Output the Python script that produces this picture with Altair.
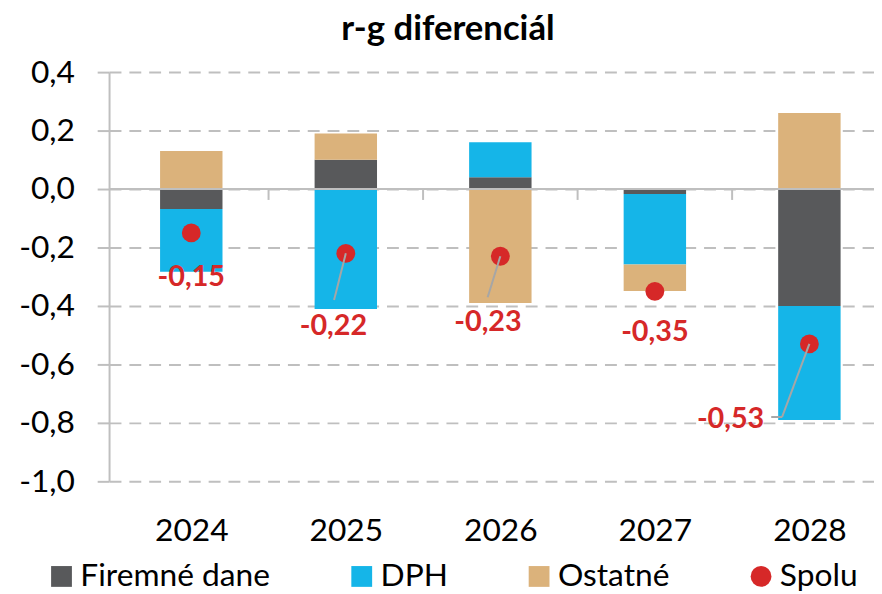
import altair as alt
import pandas as pd

# ---------------- data ----------------
years = [2024, 2025, 2026, 2027, 2028]
series = ["Firemné dane", "DPH", "Ostatné"]
firemne = [-0.068, 0.10, 0.04, -0.017, -0.40]
dph = [-0.215, -0.41, 0.12, -0.241, -0.39]
ostatne = [0.13, 0.09, -0.39, -0.091, 0.26]
spolu = [-0.15, -0.22, -0.23, -0.35, -0.53]
total_name = "Spolu"

# placement of the dragged data labels (offset in categories, value on y)
label_dx = [0.0, -0.08, -0.08, 0.0, -0.51]
label_y = [-0.302, -0.468, -0.454, -0.49, -0.786]
# leader line bends (offset in categories, value on y) per year
leaders = {
    2025: [(-0.076, -0.38)],
    2026: [(-0.082, -0.37)],
    2028: [(-0.177, -0.78), (-0.247, -0.78)],
}

colors = ["#58595B", "#15B5E8", "#DBB27B", "#D62828"]
GRAY = "#BFBFBF"
FONT = "Lato"

# ---------------- tables ----------------
rows = []
for i, y in enumerate(years):
    for k, (name, vals) in enumerate(zip(series, [firemne, dph, ostatne])):
        rows.append({"year": y, "series": name, "value": vals[i], "order": k})
bar_df = pd.DataFrame(rows)

tot_df = pd.DataFrame({
    "year": years,
    "value": spolu,
    "series": [total_name] * len(years),
    "lx": [y + d for y, d in zip(years, label_dx)],
    "ly": label_y,
    "lbl": [f"{v:.2f}".replace(".", ",") for v in spolu],
})

segs = []
for i, y in enumerate(years):
    if y in leaders:
        px, py = y, spolu[i]
        for dx, ly in leaders[y]:
            segs.append({"x1": px, "y1": py, "x2": y + dx, "y2": ly})
            px, py = y + dx, ly
seg_df = pd.DataFrame(segs)

bounds_df = pd.DataFrame({"b": [y + 0.5 for y in years[:-1]]})

# ---------------- layout ----------------
W, H = 772, 413
CAT = 158
x_scale = alt.Scale(domain=[years[0] - 0.5, years[0] - 0.5 + W / CAT], nice=False, zero=False)
y_scale = alt.Scale(domain=[-1.0, 0.4], nice=False, zero=False)

dom = series + [total_name]
color_scale = alt.Scale(domain=dom, range=colors)
shape_scale = alt.Scale(domain=dom, range=["square", "square", "square", "circle"])

y_ticks = [-1.0, -0.8, -0.6, -0.4, -0.2, 0.0, 0.2, 0.4]

x_axis = alt.Axis(values=years, format="d", title=None, grid=False, domain=False,
                  ticks=False, labelFontSize=32, labelPadding=35, labelColor="black",
                  labelFont=FONT)
y_axis = alt.Axis(values=y_ticks, title=None,
                  labelExpr="replace(replace(format(datum.value, '.1f'), '.', ','), '\u2212', '-')",
                  grid=True, gridDash=[12, 8], gridColor=GRAY, gridWidth=2,
                  domainColor=GRAY, domainWidth=2, tickColor=GRAY, tickWidth=2,
                  tickSize=12, labelFontSize=32, labelPadding=23, labelColor="black",
                  labelFont=FONT)
leg = alt.Legend(title=None)

bars = alt.Chart(bar_df).mark_bar(size=63).encode(
    x=alt.X("year:Q", scale=x_scale, axis=x_axis),
    y=alt.Y("value:Q", stack="zero", scale=y_scale, axis=y_axis),
    color=alt.Color("series:N", scale=color_scale, legend=leg),
    order=alt.Order("order:Q", sort="ascending"),
)

zero_rule = alt.Chart(pd.DataFrame({"z": [0.0]})).mark_rule(color=GRAY, strokeWidth=2).encode(
    y=alt.Y("z:Q", scale=y_scale, axis=y_axis)
)

cat_ticks = alt.Chart(bounds_df).mark_rule(color=GRAY, strokeWidth=2, y2Offset=11).encode(
    x=alt.X("b:Q", scale=x_scale, axis=x_axis),
    y=alt.datum(0.0, scale=y_scale, axis=y_axis),
    y2=alt.datum(0.0),
)

dots = alt.Chart(tot_df).mark_point(filled=True, size=361, opacity=1, strokeWidth=0).encode(
    x=alt.X("year:Q", scale=x_scale, axis=x_axis),
    y=alt.Y("value:Q", scale=y_scale, axis=y_axis),
    color=alt.Color("series:N", scale=color_scale, legend=leg),
    shape=alt.Shape("series:N", scale=shape_scale, legend=leg),
)

lead = alt.Chart(seg_df).mark_rule(color="#A6A6A6", strokeWidth=2).encode(
    x=alt.X("x1:Q", scale=x_scale, axis=x_axis),
    y=alt.Y("y1:Q", scale=y_scale, axis=y_axis),
    x2="x2:Q",
    y2="y2:Q",
)

labels = alt.Chart(tot_df).mark_text(
    font=FONT, fontSize=29, fontWeight="bold", color="#D62828", align="center", baseline="middle"
).encode(
    x=alt.X("lx:Q", scale=x_scale, axis=x_axis),
    y=alt.Y("ly:Q", scale=y_scale, axis=y_axis),
    text="lbl:N",
)

chart = alt.layer(bars, zero_rule, cat_ticks, dots, lead, labels).properties(
    width=W,
    height=H,
    padding={"left": 102, "top": 62, "right": 0, "bottom": 111},
    autosize=alt.AutoSizeParams(type="none"),
    title=alt.TitleParams("r-g diferenciál", font=FONT, fontSize=35, fontWeight="bold",
                          anchor="middle", dx=-44, offset=9, color="black"),
).configure(font=FONT).configure_view(stroke=None).configure_legend(
    orient="none", legendX=-64, legendY=493, direction="horizontal", columns=4,
    columnPadding=76, labelFontSize=32, labelFont=FONT, labelColor="black", labelLimit=400,
    symbolSize=441, symbolStrokeWidth=0, labelOffset=3, padding=0,
)

chart.save("out.html", embed_options={"renderer": "svg", "actions": False})
